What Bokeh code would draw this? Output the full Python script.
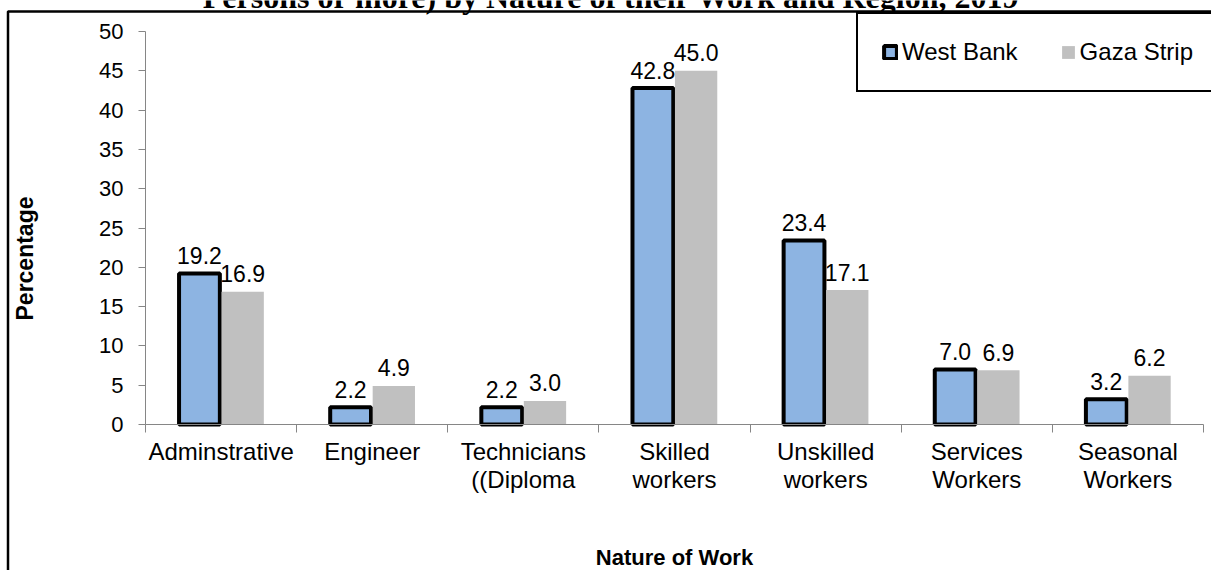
import math
from bokeh.plotting import figure
from bokeh.models import (Range1d, FixedTicker, LinearAxis, Legend, LegendItem,
                          BoxAnnotation, Label, ColumnDataSource)
from bokeh.transform import dodge
from bokeh.core.properties import value
from bokeh.embed import file_html
from bokeh.resources import INLINE

# ---- data ----
categories = ["Adminstrative", "Engineer", "Technicians\n((Diploma", "Skilled\nworkers",
              "Unskilled\nworkers", "Services\nWorkers", "Seasonal\nWorkers"]
west_bank = [19.2, 2.2, 2.2, 42.8, 23.4, 7.0, 3.2]
gaza_strip = [16.9, 4.9, 3.0, 45.0, 17.1, 6.9, 6.2]
series_names = ["West Bank", "Gaza Strip"]
y_ticks = [0, 5, 10, 15, 20, 25, 30, 35, 40, 45, 50]
title_text = "Persons or more) by Nature of their Work and Region, 2019"
x_title = "Nature of Work"
y_title = "Percentage"

# ---- layout / styles ----
W, H = 1211, 570
PL, PR, PT, PB = 145, 1203, 31, 424          # plotting area in pixels
BLUE = "#8DB4E2"
GRAY = "#C0C0C0"
AXIS_GRAY = "#868686"
FONT = "Liberation Sans"

n = len(categories)
y_max = y_ticks[-1]
ppx = (PR - PL) / n
ppy = (PB - PT) / y_max
centers = [i + 0.5 for i in range(n)]

source = ColumnDataSource(dict(
    x=centers, west=west_bank, gaza=gaza_strip,
    west_lbl=[f"{v:.1f}" for v in west_bank],
    gaza_lbl=[f"{v:.1f}" for v in gaza_strip],
))

p = figure(width=W, height=H,
           x_range=Range1d(-PL / ppx, n + (W - PR) / ppx),
           y_range=Range1d(-(H - PB) / ppy, y_max + PT / ppy),
           output_backend="svg", toolbar_location=None,
           x_axis_location=None, y_axis_location=None, min_border=0)
p.outline_line_color = None
p.xgrid.visible = False
p.ygrid.visible = False
p.background_fill_color = "white"
p.border_fill_color = "white"

# y axis
yax = LinearAxis(fixed_location=0, bounds=(0, y_max), ticker=FixedTicker(ticks=y_ticks),
                 axis_line_color=AXIS_GRAY, major_tick_line_color=AXIS_GRAY,
                 major_tick_out=7, major_tick_in=0, minor_tick_line_color=None,
                 major_label_text_font=FONT, major_label_text_font_size="22px",
                 major_label_text_color="black", major_label_standoff=15)
p.add_layout(yax, "left")

# x axis line + ticks at category boundaries
bounds = list(range(n + 1))
tax = LinearAxis(fixed_location=0, bounds=(0, n), ticker=FixedTicker(ticks=bounds),
                 major_label_overrides={b: "" for b in bounds},
                 axis_line_color=AXIS_GRAY, major_tick_line_color=AXIS_GRAY,
                 major_tick_out=8, major_tick_in=0, minor_tick_line_color=None,
                 major_label_text_font_size="1px", major_label_standoff=0)
p.add_layout(tax, "below")

# category labels
cax = LinearAxis(fixed_location=0, ticker=FixedTicker(ticks=centers),
                 major_label_overrides={c: lab for c, lab in zip(centers, categories)},
                 axis_line_color=None, major_tick_line_color=None, minor_tick_line_color=None,
                 major_tick_out=0, major_tick_in=0,
                 major_label_text_font=FONT, major_label_text_font_size="24px",
                 major_label_text_color="black", major_label_standoff=13,
                 major_label_text_line_height=1.05)
p.add_layout(cax, "below")

# bars
r_w = p.vbar(x=dodge("x", -0.143), top="west", width=0.27, source=source,
             fill_color=BLUE, line_color="black", line_width=4)
r_g = p.vbar(x=dodge("x", 0.143), top="gaza", width=0.28, source=source,
             fill_color=GRAY, line_color=None)

# data labels
p.text(x=dodge("x", -0.143), y="west", text="west_lbl", source=source,
       text_align="center", text_baseline="alphabetic", y_offset=-18,
       text_font=value(FONT), text_font_size="23px", text_color="black")
p.text(x=dodge("x", 0.143), y="gaza", text="gaza_lbl", source=source,
       text_align="center", text_baseline="alphabetic", y_offset=-18,
       text_font=value(FONT), text_font_size="23px", text_color="black")

# outer chart frame (right and bottom edges lie outside the picture)
frame = BoxAnnotation(left=7.5, right=W + 100, top=H - 11, bottom=-100,
                      left_units="screen", right_units="screen",
                      top_units="screen", bottom_units="screen",
                      fill_color=None, fill_alpha=0,
                      line_color="black", line_alpha=1.0, line_width=2.5)
p.add_layout(frame)

# axis titles
p.add_layout(Label(x=24, y=H - 258, x_units="screen", y_units="screen", text=y_title,
                   angle=math.pi / 2, text_align="center", text_baseline="middle",
                   text_font=FONT, text_font_style="bold", text_font_size="23px",
                   text_color="black"))
p.add_layout(Label(x=(PL + PR) / 2, y=H - 557, x_units="screen", y_units="screen", text=x_title,
                   text_align="center", text_baseline="middle",
                   text_font=FONT, text_font_style="bold", text_font_size="22px",
                   text_color="black"))

# title (cropped at the top, as in the reference)
p.add_layout(Label(x=611, y=H + 4, x_units="screen", y_units="screen", text=title_text,
                   text_font="Liberation Serif", text_font_style="bold", text_font_size="32px",
                   text_align="center", text_baseline="alphabetic", text_color="black"))

legend = Legend(items=[LegendItem(label=series_names[0], renderers=[r_w]),
                       LegendItem(label=series_names[1], renderers=[r_g])],
                location=(856, H - 92), orientation="horizontal",
                border_line_color="black", border_line_width=2, border_line_alpha=1,
                background_fill_color="white", background_fill_alpha=1,
                padding=24, spacing=42, label_standoff=4,
                glyph_width=16, glyph_height=16,
                label_text_font=FONT, label_text_font_size="24px", label_text_color="black")
p.add_layout(legend)

open("out.html", "w").write(file_html(p, INLINE))
